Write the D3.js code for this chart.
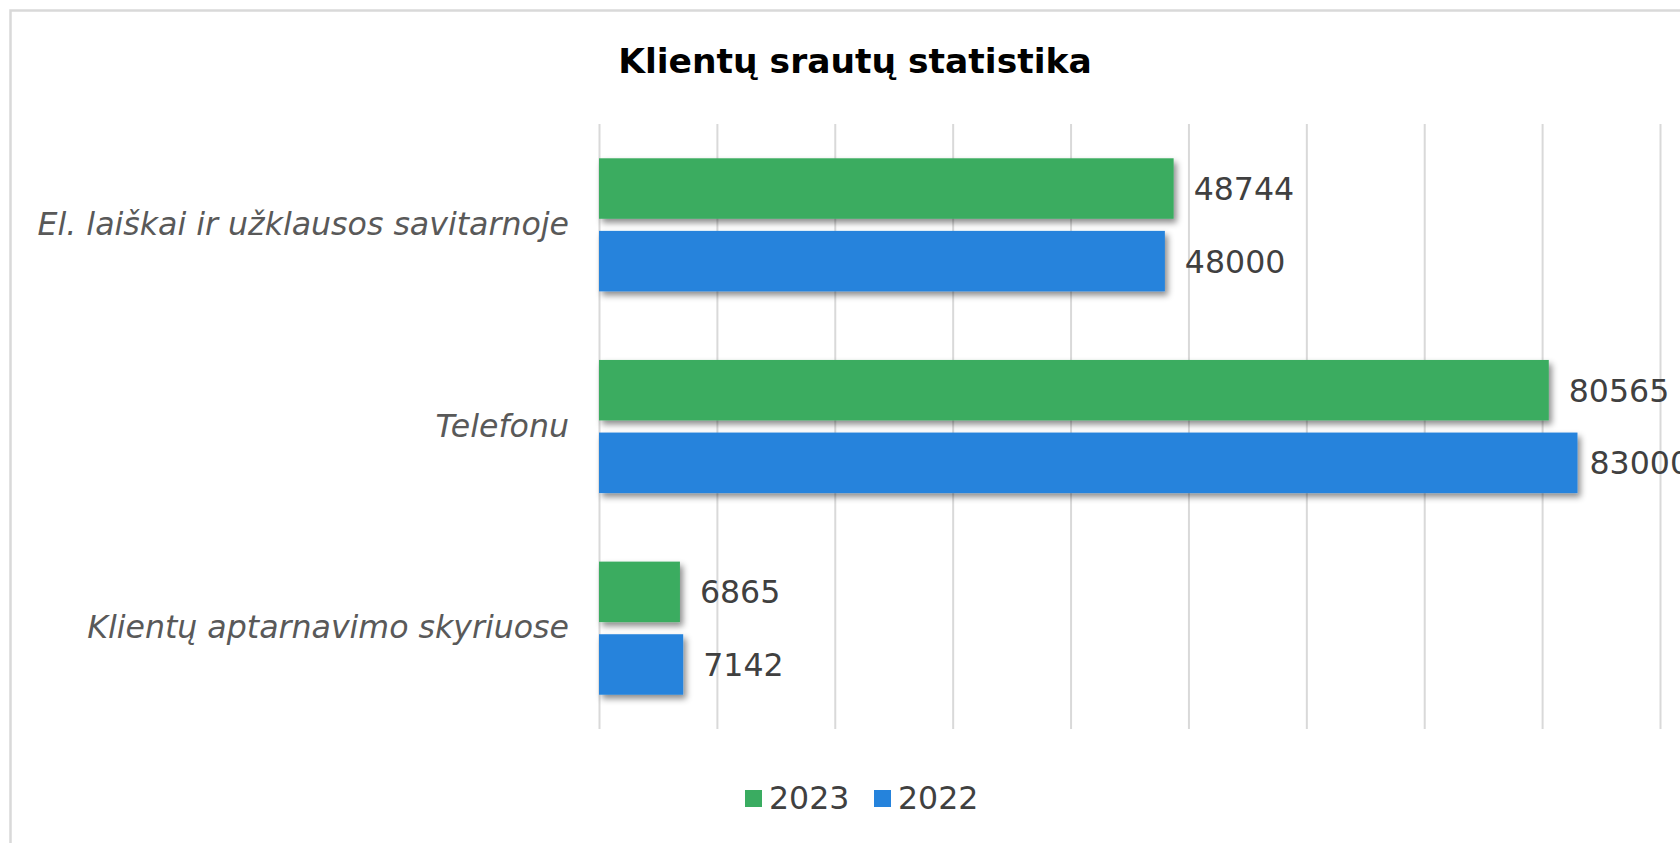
<!DOCTYPE html>
<html>
<head>
<meta charset="utf-8">
<script src="https://cdn.jsdelivr.net/npm/d3@7"></script>
<style>
  html, body { margin: 0; padding: 0; background: #ffffff; }
  svg { display: block; }
</style>
</head>
<body>
<svg id="chart" width="1680" height="843"></svg>
<script>
// ---- data ----
const categories = ["El. laiškai ir užklausos savitarnoje", "Telefonu", "Klientų aptarnavimo skyriuose"];
const seriesNames = ["2023", "2022"];
const values2023 = [48744, 80565, 6865];
const values2022 = [48000, 83000, 7142];
const xTicks = [0, 10000, 20000, 30000, 40000, 50000, 60000, 70000, 80000, 90000];
const title = "Klientų srautų statistika";

const seriesValues = { "2023": values2023, "2022": values2022 };
const colors = { "2023": "#3aac61", "2022": "#2583dc" };

const svg = d3.select("#chart");
const W = 1680, H = 843;
const plot = { left: 599, right: 1660, top: 124, bottom: 729 };
const chartAreaRight = 1690; // labels are kept inside the (wider) chart area

// shadow filter
const defs = svg.append("defs");
const f = defs.append("filter").attr("id", "shadow")
  .attr("x", "-10%").attr("y", "-20%").attr("width", "130%").attr("height", "160%");
f.append("feDropShadow").attr("dx", 3).attr("dy", 4).attr("stdDeviation", 3)
  .attr("flood-color", "#000").attr("flood-opacity", 0.45);

// chart border
svg.append("rect").attr("x", 10.5).attr("y", 10.5).attr("width", W + 20).attr("height", H + 20)
  .attr("fill", "#ffffff").attr("stroke", "#d9d9d9").attr("stroke-width", 2.5);

// scales
const x = d3.scaleLinear().domain([0, 90000]).range([plot.left, plot.right]);
const y = d3.scaleBand().domain(categories).range([plot.top, plot.bottom])
  .paddingInner(0.34).paddingOuter(0.17);
const ySub = d3.scaleBand().domain(seriesNames).range([0, y.bandwidth()])
  .paddingInner(0.167).paddingOuter(0);

// gridlines
const gx = svg.append("g").attr("transform", `translate(0,${plot.bottom})`)
  .call(d3.axisBottom(x).tickValues(xTicks).tickSize(-(plot.bottom - plot.top)).tickFormat(""));
gx.select(".domain").remove();
gx.selectAll(".tick line").attr("stroke", "#d9d9d9").attr("stroke-width", 2);

// category axis
const gy = svg.append("g").attr("transform", `translate(${plot.left},0)`)
  .call(d3.axisLeft(y).tickSize(0).tickPadding(30));
gy.select(".domain").remove();
gy.selectAll(".tick text")
  .attr("fill", "#595959")
  .style("font-family", "'DejaVu Sans', Verdana, sans-serif")
  .style("font-style", "italic")
  .style("font-size", "31.6px");

// bars
const groups = svg.append("g").selectAll("g").data(categories).join("g")
  .attr("transform", d => `translate(0,${y(d)})`);

groups.selectAll("rect")
  .data((c, i) => seriesNames.map(s => ({ s, v: seriesValues[s][i] })))
  .join("rect")
  .attr("x", x(0))
  .attr("y", d => ySub(d.s))
  .attr("width", d => x(d.v) - x(0))
  .attr("height", ySub.bandwidth())
  .attr("fill", d => colors[d.s])
  .attr("filter", "url(#shadow)");

groups.selectAll("text.val")
  .data((c, i) => seriesNames.map(s => ({ s, v: seriesValues[s][i] })))
  .join("text")
  .attr("class", "val")
  .attr("y", d => ySub(d.s) + ySub.bandwidth() / 2)
  .attr("dy", "0.36em")
  .attr("fill", "#404040")
  .style("font-family", "'DejaVu Sans', Verdana, sans-serif")
  .style("font-size", "31.6px")
  .text(d => d.v)
  .attr("x", function(d) {
    const w = this.getComputedTextLength();
    return Math.min(x(d.v) + 20, chartAreaRight - w);
  });

// title
svg.append("text")
  .attr("x", 855).attr("y", 73)
  .attr("text-anchor", "middle")
  .attr("fill", "#000000")
  .style("font-family", "'DejaVu Sans', Verdana, sans-serif")
  .style("font-weight", "bold")
  .style("font-size", "34.5px")
  .text(title);

// legend
const legend = svg.append("g");
const legendX = [745, 874];
seriesNames.forEach((s, i) => {
  legend.append("rect").attr("x", legendX[i]).attr("y", 790).attr("width", 17).attr("height", 17)
    .attr("fill", colors[s]);
  legend.append("text").attr("x", legendX[i] + 24).attr("y", 809)
    .attr("fill", "#404040")
    .style("font-family", "'DejaVu Sans', Verdana, sans-serif")
    .style("font-size", "31.6px")
    .text(s);
});
</script>
</body>
</html>
